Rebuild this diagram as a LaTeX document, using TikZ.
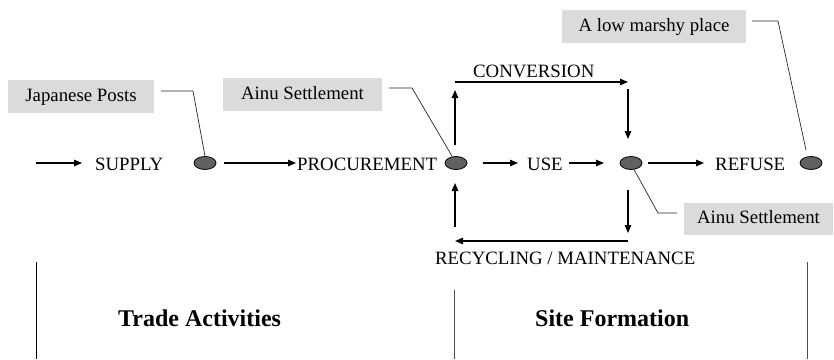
\documentclass[tikz,border=0pt]{standalone}
\usepackage{fontspec}
\setmainfont{Liberation Serif}
\usetikzlibrary{arrows.meta,shapes.geometric}
\begin{document}
\begin{tikzpicture}[x=1pt,y=-1pt,
  lbl/.style={anchor=base west,inner sep=0,font=\fontsize{18.8}{22}\selectfont},
  sectlbl/.style={anchor=base west,inner sep=0,font=\fontsize{24}{28}\selectfont\bfseries},
  blob/.style={ellipse,draw=black,line width=0.8pt,fill=black!62,minimum width=22pt,minimum height=13pt,inner sep=0},
  graybox/.style={fill=black!14,inner sep=0,text height=13pt,text depth=4pt,font=\fontsize{18.8}{22}\selectfont},
  flow/.style={line width=1.1pt,-{Triangle[length=8pt,width=6.5pt]}},
  leader/.style={line width=0.7pt,black!85},
  divline/.style={line width=1pt}]
\useasboundingbox (0,0) rectangle (834,359);

% ellipses
\node[blob] (e1) at (205,163) {};
\node[blob] (e2) at (456,163) {};
\node[blob] (e3) at (631,163) {};
\node[blob] (e4) at (811,163) {};

% main labels
\node[lbl] (supply) at (95,170) {SUPPLY};
\node[lbl] (proc) at (297,170) {PROCUREMENT};
\node[lbl] (use) at (527,170) {USE};
\node[lbl] (refuse) at (715,170) {REFUSE};
\node[lbl] (conv) at (473,77) {CONVERSION};
\node[lbl] (recyc) at (435,264) {RECYCLING / MAINTENANCE};

% section labels
\node[sectlbl] (trade) at (118,326) {Trade Activities};
\node[sectlbl] (site) at (535,326) {Site Formation};

% gray boxes
\node[graybox,minimum width=146pt,minimum height=33pt] (jp) at (81,96.5) {Japanese Posts};
\node[graybox,minimum width=159pt,minimum height=33pt] (ainuA) at (302.5,94.5) {Ainu Settlement};
\node[graybox,minimum width=184pt,minimum height=33pt] (marsh) at (654,26.5) {A low marshy place};
\node[graybox,minimum width=149pt,minimum height=32pt] (ainuB) at (758.5,219) {Ainu Settlement};

% arrow coordinates
\coordinate (a0) at (36,163);
\coordinate (a1) at (82,163);
\coordinate (b0) at (224,163);
\coordinate (b1) at (296,163);
\coordinate (c0) at (483,163);
\coordinate (c1) at (518,163);
\coordinate (d0) at (569,163);
\coordinate (d1) at (604,163);
\coordinate (f0) at (648,163);
\coordinate (f1) at (704,163);
\coordinate (u0) at (455,145);
\coordinate (u1) at (455,90);
\coordinate (h0) at (455,82);
\coordinate (h1) at (628,82);
\coordinate (v0) at (628,89);
\coordinate (v1) at (628,139);
\coordinate (w0) at (628,190);
\coordinate (w1) at (628,233);
\coordinate (r0) at (628,241);
\coordinate (r1) at (455,241);
\coordinate (q0) at (455,227);
\coordinate (q1) at (455,183);

\draw[flow] (a0) -- (a1);
\draw[flow] (b0) -- (b1);
\draw[flow] (c0) -- (c1);
\draw[flow] (d0) -- (d1);
\draw[flow] (f0) -- (f1);
\draw[flow] (u0) -- (u1);
\draw[flow] (h0) -- (h1);
\draw[flow] (v0) -- (v1);
\draw[flow] (w0) -- (w1);
\draw[flow] (r0) -- (r1);
\draw[flow] (q0) -- (q1);

% leader lines
\coordinate (jl0) at (161,91);
\coordinate (jl1) at (193,91);
\draw[leader] (jl0) -- (jl1) -- (e1.north);
\coordinate (al0) at (389,88);
\coordinate (al1) at (412,88);
\draw[leader] (al0) -- (al1) -- (e2.120);
\coordinate (ml0) at (752,21);
\coordinate (ml1) at (778,21);
\coordinate (ml2) at (806,150);
\draw[leader] (ml0) -- (ml1) -- (ml2);
\coordinate (bl1) at (658,213);
\coordinate (bl2) at (677,213);
\draw[leader] (e3.-65) -- (bl1) -- (bl2);

% divider lines
\coordinate (dl0) at (36,262);
\coordinate (dl1) at (36,359);
\coordinate (dm0) at (454,290);
\coordinate (dm1) at (454,359);
\coordinate (dr0) at (807,262);
\coordinate (dr1) at (807,359);
\draw[divline] (dl0) -- (dl1);
\draw[divline,black!70] (dm0) -- (dm1);
\draw[divline,black!70] (dr0) -- (dr1);
\end{tikzpicture}
\end{document}
